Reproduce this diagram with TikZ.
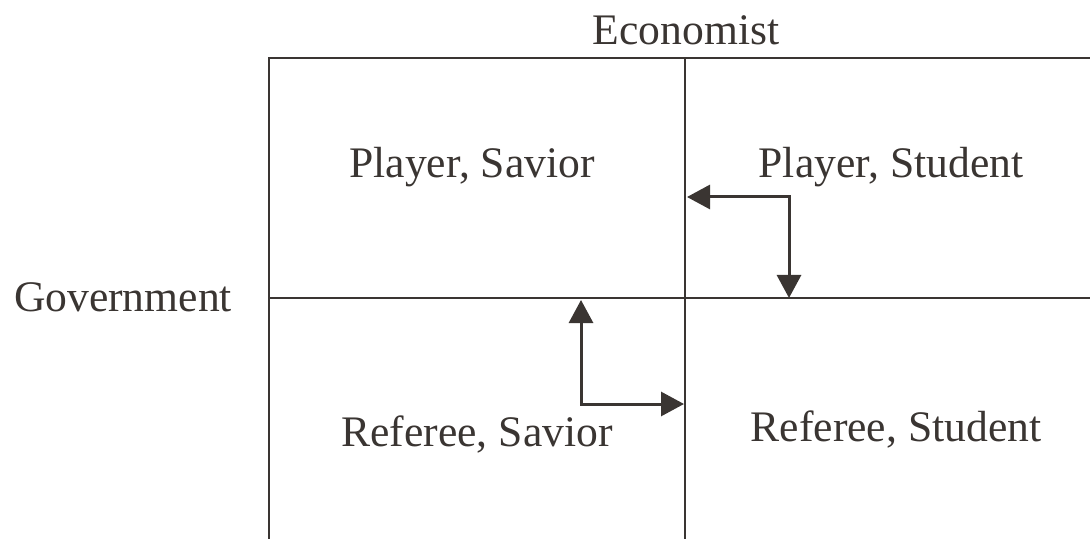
\documentclass[tikz,border=0pt]{standalone}
\usepackage{fontspec}
\setmainfont{Liberation Serif}
\usepackage{xcolor}
\usetikzlibrary{positioning,calc,arrows.meta}
\definecolor{InkGray}{RGB}{58,53,50}

\begin{document}
\begin{tikzpicture}[
		x=0.5pt, y=-0.5pt,
		grid/.style={draw=InkGray, line width=0.8pt},
		lbl/.style={font=\fontsize{21.8}{26}\selectfont, text=InkGray},
		turn/.style={draw=InkGray, line width=1.5pt, {Triangle[length=11.5pt,width=12pt]}-{Triangle[length=11.5pt,width=12pt]}}
		]
		\useasboundingbox (0,0) rectangle (1090,539);
		
		% ===== grid =====
		\coordinate (TL) at (269,58);
		\coordinate (TM) at (685,58);
		\coordinate (TR) at (1090,58);
		\coordinate (ML) at (269,298);
		\coordinate (MR) at (1090,298);
		\draw[grid] (269,539) -- (TL) -- (TR);
		\draw[grid] (TM) -- (685,539);
		\draw[grid] (ML) -- (MR);
		
		% ===== labels =====
		\node[lbl] (econ) at (686,30) {Economist};
		\node[lbl] (gov) at (123,297) {Government};
		\node[lbl] (ps) at (472,167) {Player, Savior};
		\node[lbl] (pst) at (891,167) {Player, Student};
		\node[lbl] (rs) at (477,435) {Referee, Savior};
		\node[lbl] (rst) at (896,430) {Referee, Student};
		
		% ===== arrows =====
		\coordinate (a1s) at (687,197);
		\coordinate (a1c) at (789,197);
		\coordinate (a1e) at (789,298);
		\draw[turn] (a1s) -- (a1c) -- (a1e);
		
		\coordinate (a2s) at (581,300);
		\coordinate (a2c) at (581,404);
		\coordinate (a2e) at (684,404);
		\draw[turn] (a2s) -- (a2c) -- (a2e);
		
	\end{tikzpicture}
\end{document}
